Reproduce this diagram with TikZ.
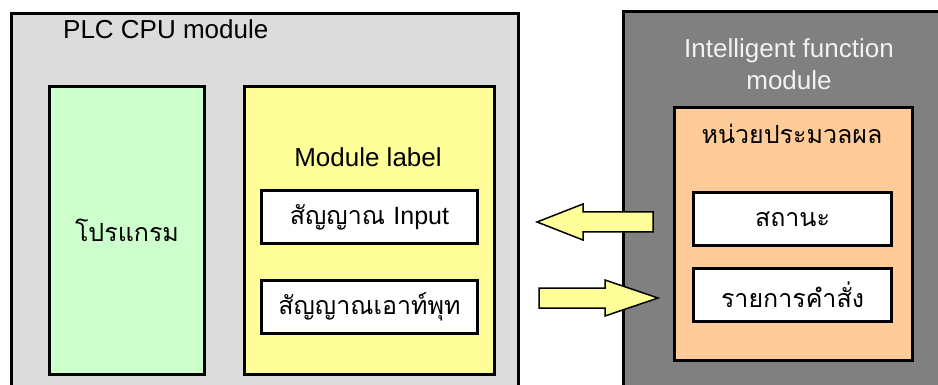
\documentclass[tikz,border=0pt]{standalone}
\usepackage{fontspec}
\setmainfont{Liberation Sans}
\newfontfamily\thaifont[Script=Thai]{Loma}
\begin{document}
\begin{tikzpicture}[x=1pt,y=-1pt,
  frame/.style={draw=black, line width=3pt, anchor=north west, inner sep=0pt},
  slot/.style={draw=black, line width=3pt, fill=white, anchor=north west, inner sep=0pt,
    font=\fontsize{25}{28}\selectfont\thaifont},
  blockarrow/.style={draw=black, line width=1.5pt, fill=arrowyellow, line join=miter},
  lbl/.style={inner sep=0pt, font=\fontsize{26}{30}\selectfont},
  thailbl/.style={inner sep=0pt, font=\fontsize{25}{28}\selectfont\thaifont}]
\definecolor{cpugray}{HTML}{DCDCDC}
\definecolor{progreen}{HTML}{CCFFCC}
\definecolor{labelyellow}{HTML}{FFFF99}
\definecolor{arrowyellow}{HTML}{FFFF99}
\definecolor{ifmgray}{HTML}{808080}
\definecolor{procorange}{HTML}{FFCC99}
\definecolor{ifmtext}{HTML}{F2F2F2}
\useasboundingbox (0,0) rectangle (938,385);

% PLC CPU module
\node[frame, fill=cpugray, minimum width=507pt, minimum height=390pt] (cpu) at (10,12) {};
\node[lbl, anchor=base west] (cputitle) at (63,39) {PLC CPU module};
\node[frame, fill=progreen, minimum width=155pt, minimum height=288pt] (prog) at (48,85) {};
\node[thailbl] (progtext) at (prog.center) {โปรแกรม};
\node[frame, fill=labelyellow, minimum width=250pt, minimum height=288pt] (modlabel) at (243,85) {};
\node[lbl, anchor=base] (modtitle) at (368,167) {Module label};
\node[slot, minimum width=216pt, minimum height=53pt] (insig) at (260,189) {สัญญาณ {\fontspec{Liberation Sans}Input}};
\node[slot, minimum width=216pt, minimum height=53pt] (outsig) at (260,279) {สัญญาณเอาท์พุท};

% Intelligent function module
\node[frame, fill=ifmgray, minimum width=330pt, minimum height=390pt] (ifm) at (622,10) {};
\node[lbl, anchor=base, text=ifmtext] (ifmtitle) at (789,58) {Intelligent function};
\node[lbl, anchor=base, text=ifmtext] (ifmtitle2) at (789,90) {module};
\node[frame, fill=procorange, minimum width=238pt, minimum height=253pt] (proc) at (673,106) {};
\node[thailbl, anchor=base] (proctitle) at (792,144) {หน่วยประมวลผล};
\node[slot, minimum width=198pt, minimum height=53pt] (status) at (692,191) {สถานะ};
\node[slot, minimum width=198pt, minimum height=53pt] (cmd) at (692,267) {รายการคำสั่ง};

% block arrows between the modules
\coordinate (lefttip) at (537,222);
\coordinate (righttip) at (658,298);
\draw[blockarrow] (lefttip) -- ++(46,-18) -- ++(0,8) -- ++(70,0) -- ++(0,20)
  -- ++(-70,0) -- ++(0,8) -- cycle;
\draw[blockarrow] (righttip) -- ++(-53,-18) -- ++(0,8) -- ++(-66,0) -- ++(0,20)
  -- ++(66,0) -- ++(0,8) -- cycle;
\end{tikzpicture}
\end{document}
